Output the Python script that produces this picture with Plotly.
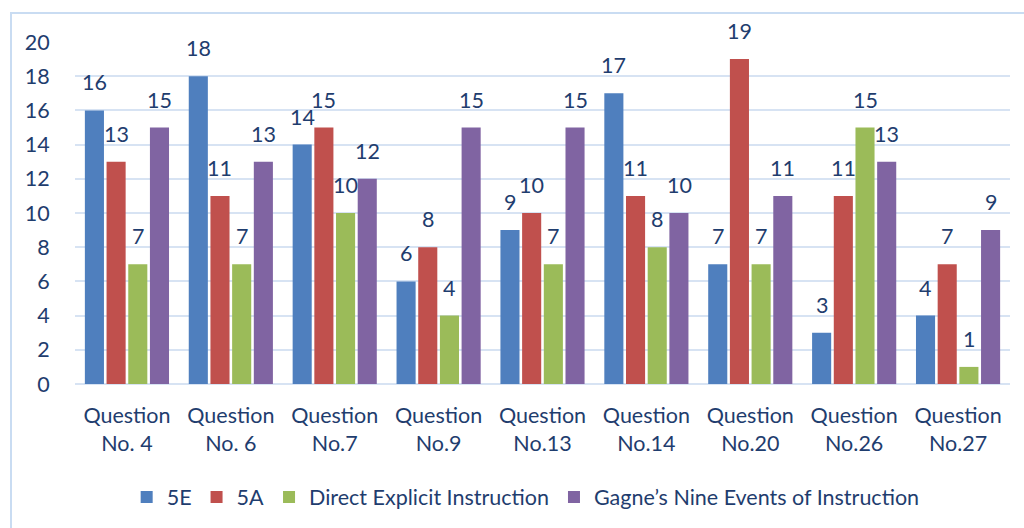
import plotly.graph_objects as go

categories = ["Question<br>No. 4", "Question<br>No. 6", "Question<br>No.7", "Question<br>No.9",
              "Question<br>No.13", "Question<br>No.14", "Question<br>No.20", "Question<br>No.26",
              "Question<br>No.27"]
series_names = ["5E", "5A", "Direct Explicit Instruction", "Gagne\u2019s Nine Events of Instruction"]
v_5e = [16, 18, 14, 6, 9, 17, 7, 3, 4]
v_5a = [13, 11, 15, 8, 10, 11, 19, 11, 7]
v_dei = [7, 7, 10, 4, 7, 8, 7, 15, 1]
v_gagne = [15, 13, 12, 15, 15, 10, 11, 13, 9]
y_ticks = [0, 2, 4, 6, 8, 10, 12, 14, 16, 18, 20]

values = [v_5e, v_5a, v_dei, v_gagne]
colors = ["#4f7fbe", "#c0504d", "#9bbb59", "#8064a2"]
text_color = "#1f3d6e"
font_family = "Lato, Noto Sans, sans-serif"
fs = 21.5

fig = go.Figure()
for name, vals, col in zip(series_names, values, colors):
    fig.add_trace(go.Bar(x=categories, y=vals, name=name, marker=dict(color=col, line=dict(width=0))))

# data labels
slot = 21.75
for i, vals in enumerate(values):
    for c, v in zip(categories, vals):
        fig.add_annotation(x=c, y=v, text=str(v), showarrow=False, yanchor="bottom",
                           xshift=(i - 1.5) * slot, yshift=13,
                           font=dict(size=fs, color=text_color, family=font_family))

L, R, T, B = 75, 14, 42, 143
pw, ph = 1024 - L - R, 528 - T - B
fig.add_shape(type="rect", xref="paper", yref="paper",
              x0=(11 - L) / pw, x1=(1030 - L) / pw, y0=-0.6,
              y1=(ph + T - 13) / ph, line=dict(color="#c9dcf2", width=2), fillcolor="rgba(0,0,0,0)",
              layer="below")

fig.update_layout(
    width=1024, height=528,
    margin=dict(l=L, r=R, t=T, b=B),
    paper_bgcolor="white", plot_bgcolor="white",
    barmode="group", bargap=0.165, bargroupgap=0.12,
    font=dict(family=font_family, size=fs, color=text_color),
    legend=dict(orientation="h", x=0.482, xanchor="center", y=(385 - 497) / ph, yanchor="middle",
                font=dict(size=fs, color=text_color), itemwidth=30, traceorder="normal"),
    xaxis=dict(showgrid=False, showline=False, zeroline=False, ticks="outside", ticklen=12,
               tickcolor="rgba(0,0,0,0)", tickfont=dict(size=fs, color=text_color)),
    yaxis=dict(range=[0, 20], tickvals=y_ticks, showgrid=True, gridcolor="#d7e3f3", gridwidth=2,
               zeroline=True, zerolinecolor="#d7e3f3", zerolinewidth=2, showline=False,
               ticks="outside", ticklen=20, tickcolor="rgba(0,0,0,0)",
               tickfont=dict(size=fs, color=text_color)),
    showlegend=True,
)

fig.write_html("out.html")
